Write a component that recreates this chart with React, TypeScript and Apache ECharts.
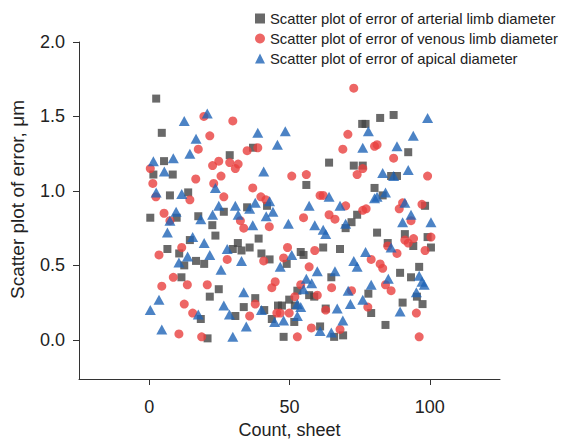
import React, { useEffect, useRef } from "react";
import * as echarts from "echarts";

const seriesNames = [
  "Scatter plot of error of arterial limb diameter",
  "Scatter plot of error of venous limb diameter",
  "Scatter plot of error of apical diameter",
];

const xTicks = [0, 50, 100];
const yTicks = [0, 0.5, 1.0, 1.5, 2.0];

const arterialPoints: number[][] = [
  [2.5, 1.62], [4.5, 1.39], [5.3, 1.2], [1.5, 1.11], [8.4, 1.11], [7.4, 0.97], [13.9, 0.99], [0.4, 0.82],
  [9.8, 0.82], [17.5, 0.83], [22.5, 0.77], [14.5, 0.67], [6.5, 0.61], [10.7, 0.58], [16.7, 0.53], [19.6, 0.51],
  [12.5, 0.5], [11.5, 0.42], [21.6, 0.29], [18.4, 0.14], [20.8, 0.01],
  [28.7, 1.24], [37, 1.29], [42, 0.9], [26.6, 0.86], [34.9, 0.89], [23.6, 0.7], [39, 0.68], [31.6, 0.65],
  [29.8, 0.61], [32.9, 0.6], [35.8, 0.62], [40, 0.58], [42.9, 0.54], [49, 0.51], [24.8, 0.34], [37.8, 0.28],
  [33.7, 0.22], [30.7, 0.16], [41, 0.2], [43.7, 0.14], [45.9, 0.23], [47.3, 0.23], [47.9, 0.02],
  [64.1, 1.19], [72.9, 1.17], [75.9, 1.45], [56, 1.04], [74.1, 0.84], [72.1, 0.79], [70, 0.75], [62, 0.62],
  [54, 0.59], [55, 0.57], [68, 0.61], [64.9, 0.42], [52.8, 0.33], [57, 0.3], [58.8, 0.29], [49.9, 0.27],
  [51.9, 0.23], [51.7, 0.12], [62.9, 0.21], [60.9, 0.09], [65.9, 0.02], [69.1, 0.03],
  [77.1, 1.45], [82.3, 1.49], [87.1, 1.51], [92.3, 1.26], [76.1, 1.17], [86.2, 1.1], [88.3, 1.1], [80.3, 1.02],
  [83.2, 0.97], [98.3, 0.9], [81.2, 0.72], [91.1, 0.71], [85, 0.65], [94.1, 0.63], [99.2, 0.69], [100.4, 0.62],
  [96.2, 0.49], [89.4, 0.45], [93.3, 0.42], [78.1, 0.31], [95.4, 0.29], [90.3, 0.25], [97.4, 0.24], [79.1, 0.18],
  [84.2, 0.1],
];

const venousPoints: number[][] = [
  [19.5, 1.5], [21.6, 1.37], [17.5, 1.28], [22.6, 1.17], [0.4, 1.15], [1.3, 1.05], [16.6, 1.08], [23, 1.05],
  [2.4, 0.96], [14.5, 0.94], [5.3, 0.85], [7.4, 0.8], [11.6, 0.62], [3.5, 0.57], [8.6, 0.42], [4.5, 0.36],
  [13.6, 0.37], [20.7, 0.37], [12.5, 0.24], [15.5, 0.18], [10.6, 0.04], [18.7, 0.02],
  [29.8, 1.47], [34.9, 1.27], [38.7, 1.29], [24.8, 1.2], [28.7, 1.19], [31.7, 1.18], [30.7, 1.15], [25.6, 1.1],
  [36.9, 1.02], [26.6, 0.96], [39.8, 0.96], [41.6, 0.94], [32.5, 0.8], [33.7, 0.75], [42.8, 0.76], [27.8, 0.54],
  [40.8, 0.53], [47.9, 0.55], [44.9, 0.39], [43.7, 0.35], [37.8, 0.24], [35.8, 0.16], [45.5, 0.18], [46.7, 0.18],
  [72.9, 1.69], [70.8, 1.38], [69, 1.28], [74.1, 1.11], [50.8, 1.1], [56, 1.11], [60.9, 0.97], [62, 0.97],
  [70, 0.9], [55, 0.82], [64.1, 0.84], [66.2, 0.81], [49.3, 0.62], [59, 0.6], [57, 0.49], [54, 0.37],
  [65, 0.35], [72.1, 0.33], [59.9, 0.3], [51.9, 0.29], [49.9, 0.18], [62.9, 0.2], [57.8, 0.08], [68, 0.07],
  [52.8, 0.02],
  [80.3, 1.3], [81.2, 1.31], [87.1, 1.22], [76.1, 1.15], [99.2, 1.1], [89.1, 0.88], [90.3, 0.92], [97.2, 0.91],
  [76.1, 0.87], [77.3, 0.88], [93.3, 0.8], [91.1, 0.67], [94.2, 0.68], [100.4, 0.69], [92.3, 0.65], [85, 0.63],
  [88.3, 0.58], [98.3, 0.6], [79.1, 0.54], [82.3, 0.51], [83.2, 0.48], [84.2, 0.37], [86.2, 0.33], [77.9, 0.22],
  [95.2, 0.18], [96.2, 0.02],
];

const apicalPoints: number[][] = [
  [20.7, 1.52], [12.5, 1.47], [16.7, 1.35], [14.5, 1.25], [1.5, 1.2], [8.6, 1.22], [5.4, 1.13], [2.5, 0.99],
  [11.6, 0.98], [9.6, 0.86], [7.4, 0.8], [18.4, 0.81], [22.6, 0.84], [6.5, 0.72], [15.5, 0.69], [19.6, 0.65],
  [13.7, 0.56], [21.6, 0.57], [10.6, 0.52], [3.5, 0.27], [0.4, 0.2], [17.5, 0.17], [4.5, 0.07],
  [38.7, 1.39], [48.5, 1.4], [45.7, 1.31], [40.8, 1.13], [23.6, 1.02], [24.8, 0.9], [30.7, 0.9], [35.8, 0.88],
  [37.8, 0.92], [42.9, 0.93], [44.1, 0.86], [31.7, 0.84], [41.7, 0.83], [36.9, 0.77], [49.6, 0.78], [27.8, 0.61],
  [32.9, 0.53], [25.6, 0.47], [46.7, 0.49], [33.7, 0.32], [26.6, 0.23], [28.6, 0.17], [40, 0.2], [44.7, 0.12],
  [47.9, 0.13], [34.6, 0.09], [29.8, 0.02],
  [64.1, 0.96], [57, 0.9], [68, 0.9], [59, 0.77], [62, 0.74], [70, 0.78], [62.9, 0.71], [50.8, 0.57],
  [72.9, 0.53], [74.1, 0.49], [59.9, 0.46], [66.2, 0.46], [56, 0.41], [57.9, 0.38], [55, 0.34], [70.9, 0.33],
  [52.8, 0.24], [54, 0.22], [71.7, 0.24], [67, 0.21], [52.8, 0.16], [69, 0.13], [60.9, 0.06], [64.9, 0.05],
  [99.2, 1.49], [78.1, 1.4], [94.1, 1.37], [76.1, 1.29], [88.3, 1.3], [83.2, 1.12], [87.1, 1.1], [92.3, 1.14],
  [84.2, 0.99], [81.2, 0.96], [80.3, 0.95], [91.1, 0.92], [93.3, 0.84], [90.3, 0.79], [100.4, 0.79], [86.2, 0.62],
  [77.1, 0.59], [96.2, 0.43], [97.2, 0.39], [98, 0.37], [85.2, 0.41], [79.1, 0.37], [95.2, 0.32], [76.1, 0.27],
  [89.4, 0.19],
];

const FONT = "'Liberation Sans', Arial, Helvetica, sans-serif";

export default function App() {
  const ref = useRef<HTMLDivElement>(null);
  useEffect(() => {
    if (!ref.current) return;
    const chart = echarts.init(ref.current, null, { renderer: "svg" });
    const axisLine = { show: true, onZero: false, lineStyle: { color: "#333", width: 1 } };
    chart.setOption({
      animation: false,
      backgroundColor: "#fff",
      textStyle: { fontFamily: FONT },
      grid: { left: 78, right: 63, top: 42, bottom: 53, containLabel: false },
      legend: {
        orient: "vertical",
        left: 250,
        top: 6,
        itemGap: 5,
        itemWidth: 10,
        itemHeight: 10,
        textStyle: { fontSize: 14.8, color: "#222", fontFamily: FONT },
        data: seriesNames,
      },
      xAxis: {
        type: "value",
        min: -25,
        max: 125,
        name: "Count, sheet",
        nameLocation: "middle",
        nameGap: 42,
        nameTextStyle: { fontSize: 18, color: "#222", fontFamily: FONT },
        axisLine,
        axisTick: { show: true, customValues: xTicks, length: 6, lineStyle: { color: "#333" } },
        axisLabel: { customValues: xTicks, fontSize: 18, color: "#222", margin: 19, fontFamily: FONT },
        splitLine: { show: false },
      },
      yAxis: {
        type: "value",
        min: -0.263,
        max: 2.0,
        name: "Scatter plot of error, μm",
        nameLocation: "middle",
        nameGap: 52,
        nameTextStyle: { fontSize: 19, color: "#222", fontFamily: FONT, padding: [0, 0, 0, 22] },
        axisLine,
        axisTick: { show: true, customValues: yTicks, length: 6, lineStyle: { color: "#333" } },
        axisLabel: {
          customValues: yTicks,
          fontSize: 18,
          color: "#222",
          margin: 14,
          fontFamily: FONT,
          formatter: (v: number) => v.toFixed(1),
        },
        splitLine: { show: false },
      },
      series: [
        {
          name: seriesNames[0],
          type: "scatter",
          symbol: "rect",
          symbolSize: 8,
          itemStyle: { color: "#434343" },
          data: arterialPoints,
        },
        {
          name: seriesNames[1],
          type: "scatter",
          symbol: "circle",
          symbolSize: 9,
          itemStyle: { color: "#E8403F" },
          data: venousPoints,
        },
        {
          name: seriesNames[2],
          type: "scatter",
          symbol: "triangle",
          symbolSize: [11, 10],
          itemStyle: { color: "#1F64B6" },
          data: apicalPoints,
        },
      ],
    });
    return () => chart.dispose();
  }, []);
  return <div ref={ref} style={{ width: 563, height: 444, position: "absolute", left: 0, top: 0 }} />;
}
